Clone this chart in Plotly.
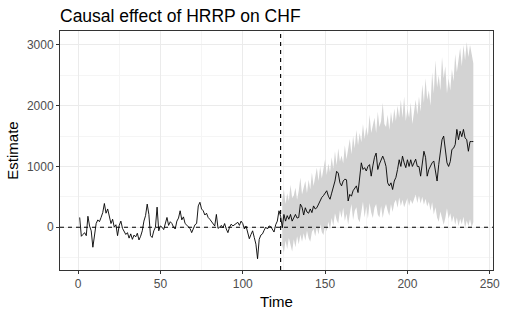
import plotly.graph_objects as go

# data
time = list(range(1, 241))
intervention = 123

pre_estimate = [
    160, -150, -120, -90, -140, 180, 20, -60, -330, -120,
    60, 120, 90, 160, 240, 390, 230, 300, 180, 60,
    130, 0, 40, -140, 30, 100, -20, -60, -120, -90,
    -180, -110, -200, -130, -160, -100, -210, -150, -60, 100,
    190, 380, 210, -140, -170, -60, 0, 330, -60, 20,
    0, -40, 60, 160, 30, 90, 60, 0, -30, 100,
    150, 270, 120, 170, 60, 30, 10, -20, -90, -30,
    40, 60, 350, 410, 300, 270, 200, 230, 160, 130,
    90, 50, 20, 210, -20, 0, 30, -10, 60, -30,
    -90, 0, 50, 20, 40, 70, 80, 30, 100, 60,
    -30, 20, -80, -190, -120, -60, -170, -280, -520, -200,
    -130, -110, -50, 0, -30, 20, 10, -40, -80, 40,
    100, 270, 180,
]

post_estimate = [
    -10, 210, 100, 190, 130, 210, 100, 150, 210, 150,
    160, 380, 330, 200, 320, 250, 230, 300, 240, 350,
    300, 320, 380, 460, 490, 520, 570, 600, 510, 460,
    560, 650, 760, 920, 890, 730, 680, 760, 790, 780,
    431, 540, 510, 600, 640, 680, 570, 790, 1060, 950,
    980, 925, 1000, 1030, 840, 1010, 1150, 1220, 950, 1040,
    1110, 1170, 1100, 1000, 730, 680, 730, 620, 760, 820,
    950, 1110, 1000, 1170, 1060, 980, 1110, 1000, 1110, 1000,
    1060, 1120, 1000, 1000, 840, 1080, 1250, 1150, 840, 950,
    1020, 1060, 1090, 900, 760, 1030, 1280, 1440, 1500, 1280,
    1060, 1000, 1080, 1280, 1300, 1360, 1610, 1440, 1580, 1490,
    1610, 1470, 1440, 1250, 1410, 1410, 1410,
]

post_upper = [
    460, 620, 380, 560, 430, 700, 480, 520, 650, 450,
    600, 820, 540, 640, 760, 560, 780, 620, 900, 680,
    820, 980, 760, 1000, 800, 940, 1120, 860, 1050, 900,
    1150, 960, 1250, 1020, 1300, 1080, 1180, 1050, 1350, 1120,
    1300, 1450, 1200, 1500, 1300, 1600, 1350, 1550, 1400, 1700,
    1450, 1650, 1500, 1850, 1550, 1700, 1800, 1550, 1900, 1650,
    1750, 2050, 1700, 1650, 1850, 1600, 1900, 1700, 1950, 1750,
    2000, 1800, 2100, 1800, 2150, 1750, 1950, 1800, 2050, 1700,
    1900, 2100, 1850, 2150, 1900, 2350, 2050, 2450, 2100, 2250,
    2000, 2550, 2200, 2750, 2300, 2500, 2250, 2800, 2450, 2650,
    2200, 2450, 2250, 2600, 2400, 2850, 2550, 2800, 2950, 2650,
    3000, 2750, 3050, 2800, 3000, 2850, 2700,
]

post_lower = [
    -300, -420, -220, -360, -180, -320, -400, -200, -330, -150,
    -280, -120, -240, -100, -220, -60, -180, -240, -80, -30,
    -150, 0, -120, 50, -80, -130, 30, -70, 90, -40,
    150, 20, 230, 120, 60, 280, 150, 320, 100, 220,
    40, 220, 380, 120, 270, 330, 140, 80, 290, 420,
    160, 340, 140, 400, 240, 150, 320, 380, 210, 160,
    350, 150, 300, 380, 270, 190, 380, 250, 400, 450,
    320, 490, 350, 450, 330, 420, 480, 350, 450, 380,
    480, 540, 400, 520, 390, 500, 370, 470, 340, 420,
    270, 410, 210, 330, 160, 90, 260, 140, 40, 150,
    310, 140, 230, 80, 190, 40, 160, 20, 140, 50,
    170, -10, 110, 20, 130, 0, 80,
]

estimate = pre_estimate + post_estimate
post_time = time[len(pre_estimate):]

font_family = "Liberation Sans, Arial, sans-serif"
grid_major = "#EBEBEB"
grid_minor = "#F5F5F5"

fig = go.Figure()

# credible band
fig.add_trace(go.Scatter(x=post_time, y=post_upper, mode="lines",
                         line=dict(width=0, color="#D3D3D3"), hoverinfo="skip",
                         showlegend=False))
fig.add_trace(go.Scatter(x=post_time, y=post_lower, mode="lines", fill="tonexty",
                         fillcolor="#D3D3D3", line=dict(width=0, color="#D3D3D3"),
                         hoverinfo="skip", showlegend=False))

# estimate
fig.add_trace(go.Scatter(x=time, y=estimate, mode="lines",
                         line=dict(color="black", width=0.9), showlegend=False))

# reference lines
dash_style = dict(color="black", width=1.1, dash="4px,4px")
fig.add_hline(y=0, line=dash_style, layer="above")
fig.add_vline(x=intervention, line=dash_style, layer="above")

axis_common = dict(
    showline=True, linecolor="#333333", linewidth=1, mirror=True,
    ticks="outside", ticklen=3, tickcolor="#333333", tickwidth=1,
    tickfont=dict(family=font_family, size=12, color="#4D4D4D"),
    showgrid=True, gridcolor=grid_major, gridwidth=1, zeroline=False,
    title_font=dict(family=font_family, size=15, color="black"),
)

fig.update_xaxes(
    range=[-10.95, 251.95], tickvals=[0, 50, 100, 150, 200, 250],
    minor=dict(tickvals=[25, 75, 125, 175, 225], showgrid=True, gridcolor=grid_minor,
               ticks=""),
    title_text="Time", title_standoff=6, **axis_common,
)
fig.update_yaxes(
    range=[-705, 3230], tickvals=[0, 1000, 2000, 3000],
    minor=dict(tickvals=[-500, 500, 1500, 2500], showgrid=True, gridcolor=grid_minor,
               ticks=""),
    title_text="Estimate", title_standoff=4, **axis_common,
)

fig.update_layout(
    width=508, height=316,
    margin=dict(l=60, r=8, t=31, b=45),
    paper_bgcolor="white", plot_bgcolor="white",
    title=dict(text="Causal effect of HRRP on CHF", x=60 / 508, xanchor="left",
               xref="container", y=1 - 15.5 / 316, yanchor="middle", yref="container",
               font=dict(family=font_family, size=17.5, color="black")),
    font=dict(family=font_family),
)

# drop the default page margin so the figure sits at the window corner
fig.write_html("out.html", config={"displayModeBar": False},
               post_script="document.body.style.margin='0';")
